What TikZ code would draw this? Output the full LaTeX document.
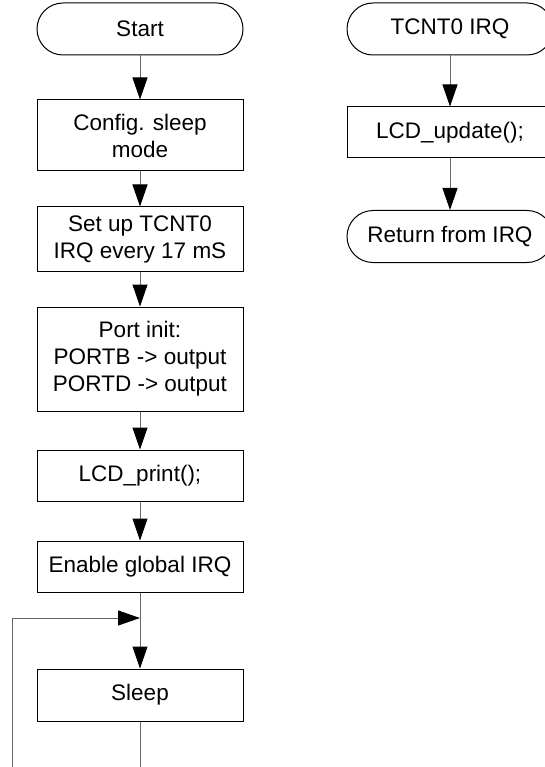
\documentclass[tikz,border=0pt]{standalone}
\usepackage{fontspec}
\setmainfont{Liberation Sans}
\usetikzlibrary{arrows.meta}

\tikzset{
  proc/.style={draw=black, line width=1pt, minimum width=206pt, inner sep=0pt,
               align=center, font=\fontsize{22.5}{27}\selectfont},
  term/.style={proc, rounded corners=26pt, minimum height=52pt},
  flow/.style={draw=black!60, line width=1pt},
  flowarrow/.style={flow, -{Triangle[length=22pt,width=15pt,color=black]}}
}

\begin{document}
\begin{tikzpicture}[x=1pt, y=1pt]
  \useasboundingbox (0,0) rectangle (545,-767);

  % main program
  \node[term] (start)  at (140,-29)    {Start};
  \node[proc, minimum height=71pt]  (cfg)    at (140,-135.5) {Config. sleep\\mode};
  \node[proc, minimum height=64pt]  (timer)  at (140,-239)   {Set up TCNT0\\IRQ every 17 mS};
  \node[proc, minimum height=104pt] (port)   at (140,-359)   {Port init:\\PORTB -> output\\PORTD -> output};
  \node[proc, minimum height=51pt]  (print)  at (140,-475.5) {LCD\_print();};
  \node[proc, minimum height=51pt]  (irqen)  at (140,-566.5) {Enable global IRQ};
  \node[proc, minimum height=52pt]  (sleep)  at (140,-695)   {Sleep};

  % interrupt handler
  \node[term] (tirq)   at (450,-29)    {TCNT0 IRQ};
  \node[proc, minimum height=51pt]  (upd)    at (450,-132.5) {LCD\_update();};
  \node[term] (ret)    at (450,-236.5) {Return from IRQ};

  % loop points
  \coordinate (join)  at (140,-618);
  \coordinate (downA) at (140,-767);
  \coordinate (downB) at (12,-767);

  \draw[flowarrow] (start) -- (cfg);
  \draw[flowarrow] (cfg)   -- (timer);
  \draw[flowarrow] (timer) -- (port);
  \draw[flowarrow] (port)  -- (print);
  \draw[flowarrow] (print) -- (irqen);
  \draw[flowarrow] (irqen) -- (sleep);
  \draw[flow] (sleep) -- (downA);
  \draw[flowarrow] (downB) |- (join);

  \draw[flowarrow] (tirq) -- (upd);
  \draw[flowarrow] (upd)  -- (ret);
\end{tikzpicture}
\end{document}
